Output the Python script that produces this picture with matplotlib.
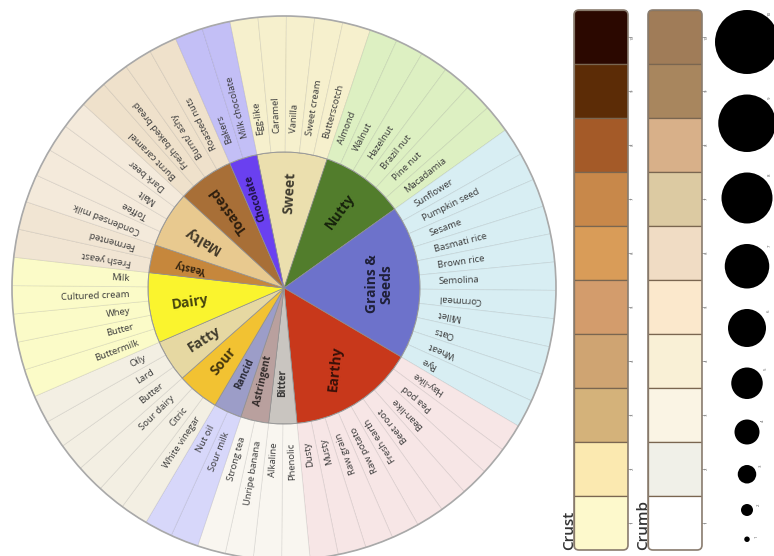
"""Bread flavour wheel with crust / crumb colour scales and a dot-size key."""

import numpy as np
import matplotlib.pyplot as plt
from matplotlib.colors import to_rgb
from matplotlib.patches import Wedge, Circle, Rectangle, FancyBboxPatch

plt.rcParams["font.family"] = ["Open Sans", "DejaVu Sans"]

# --- data -----------------------------------------------------------------
categories = ["Sweet", "Nutty", "Grains &\nSeeds", "Earthy", "Bitter",
              "Astringent", "Rancid", "Sour", "Fatty", "Dairy", "Yeasty",
              "Malty", "Toasted", "Chocolate"]

sweet = ["Egg-like", "Caramel", "Vanilla", "Sweet cream", "Butterscotch"]
nutty = ["Almond", "Walnut", "Hazelnut", "Brazil nut", "Pine nut", "Macadamia"]
grains = ["Sunflower", "Pumpkin seed", "Sesame", "Basmati rice", "Brown rice",
          "Semolina", "Cornmeal", "Millet", "Oats", "Wheat", "Rye"]
earthy = ["Hay-like", "Pea pod", "Bean-like", "Beet root", "Fresh earth",
          "Raw potato", "Raw grain", "Musty", "Dusty"]
bitter = ["Phenolic", "Alkaline"]
astringent = ["Unripe banana", "Strong tea"]
rancid = ["Sour milk", "Nut oil"]
sour = ["White vinegar", "Citric", "Sour dairy"]
fatty = ["Butter", "Lard", "Oily"]
dairy = ["Buttermilk", "Butter", "Whey", "Cultured cream", "Milk"]
yeasty = ["Fresh yeast", "Fermented"]
malty = ["Condensed milk", "Toffee", "Malt", "Dark beer"]
toasted = ["Burnt caramel", "Fresh baked bread", "Burnt/ ashy", "Roasted nuts"]
chocolate = ["Bakers", "Milk chocolate"]
leaves = [sweet, nutty, grains, earthy, bitter, astringent, rancid, sour,
          fatty, dairy, yeasty, malty, toasted, chocolate]

inner_colors = ["#ebdfae", "#527d2c", "#6d72cb", "#c8381b", "#c9c5c0",
                "#b9a09e", "#9c9dc8", "#f2c232", "#e6d8a2", "#faf42e",
                "#c6873c", "#e8c98f", "#a86f37", "#6a40f0"]
outer_colors = ["#f6f0cd", "#ddf0c2", "#d8eef3", "#f7e6e6", "#f9f6f0",
                "#f9f6f0", "#d7d7fa", "#f3efe3", "#f3efe3", "#fbfbc8",
                "#f1e5d3", "#f4eadb", "#efe1cb", "#c3bff6"]

levels = [10, 9, 8, 7, 6, 5, 4, 3, 2, 1]
crust_colors = ["#2b0800", "#5c2c06", "#a45a28", "#c8884a", "#d99c58",
                "#d39c6c", "#cfa472", "#d4b27a", "#fbe9b0", "#fdf9cc"]
crumb_colors = ["#a07c58", "#a8865e", "#d8b089", "#dccaa2", "#f0dcc4",
                "#fbe8cc", "#f9f0d6", "#faf4e4", "#f0f0e8", "#ffffff"]

# --- layout ---------------------------------------------------------------
W, H = 774, 556
CX, CY = 284, 268          # wheel centre, y measured upward
R_IN, R_OUT = 136, 272
START = 101.5              # where "Sweet" begins, degrees ccw from east
STEP = 6.0                 # every leaf flavour gets the same slice
R_LABEL = 155
R_CAT = 95
ROT_OVERRIDE = {"Grains &\nSeeds": 90, "Earthy": 84}

BAR_TOP, BAR_BOT = 546, 6
CRUST_X, CRUMB_X, BAR_W = 574, 648, 54
DOT_X, DOT_GAP = 747, 20.5
DOT_SCALE, DOT_OFF = 3.25, -0.5   # radius in px per level


def orient(a):
    """Radial text: read outward on the upper side, flip on the rest."""
    a = a % 360
    if 0 < a < 174:
        return a, "left"
    return a - 180, "right"


def polar(r, a):
    t = np.deg2rad(a)
    return CX + r * np.cos(t), CY + r * np.sin(t)


def darken(c, f=0.28):
    return tuple(v * f for v in to_rgb(c))


def main() -> None:
    fig = plt.figure(figsize=(W / 100, H / 100), dpi=100)
    ax = fig.add_axes([0, 0, 1, 1])
    ax.set_xlim(0, W)
    ax.set_ylim(0, H)
    ax.set_aspect("equal")
    ax.axis("off")

    k = 0
    for cat, kids, cin, cout in zip(categories, leaves, inner_colors, outer_colors):
        n = len(kids)
        a1 = START - STEP * k
        a0 = a1 - STEP * n
        ax.add_patch(Wedge((CX, CY), R_IN, a0, a1, facecolor=cin,
                           edgecolor="#8f8f8f", lw=0.5))
        mid = (a0 + a1) / 2
        rot = ROT_OVERRIDE.get(cat, orient(mid)[0])
        x, y = polar(R_CAT, mid)
        ax.text(x, y, cat, rotation=rot, rotation_mode="anchor", ha="center",
                va="center", multialignment="center", linespacing=1.0,
                fontsize=10 if n >= 3 else 7, fontweight="bold",
                color=darken(cin))
        for j, leaf in enumerate(kids):
            b1 = a1 - STEP * j
            b0 = b1 - STEP
            ax.add_patch(Wedge((CX, CY), R_OUT, b0, b1, width=R_OUT - R_IN,
                               facecolor=cout, edgecolor=(0, 0, 0, 0.08), lw=0.6))
            m = (b0 + b1) / 2
            rot, ha = orient(m)
            x, y = polar(R_LABEL, m)
            ax.text(x, y, leaf, rotation=rot, rotation_mode="anchor", ha=ha,
                    va="center", fontsize=6.8, color="#3a3a3a")
        k += n

    ax.add_patch(Circle((CX, CY), R_OUT, fill=False, ec="#a9a9a9", lw=1.2))
    ax.add_patch(Circle((CX, CY), R_IN, fill=False, ec="#9a9a9a", lw=0.7))

    # colour scales
    sw = (BAR_TOP - BAR_BOT) / len(levels)
    for bx, cols, name in [(CRUST_X, crust_colors, "Crust"),
                           (CRUMB_X, crumb_colors, "Crumb")]:
        frame = FancyBboxPatch((bx, BAR_BOT), BAR_W, BAR_TOP - BAR_BOT,
                               boxstyle="round,pad=0,rounding_size=5",
                               fc="none", ec="#8a7d70", lw=1.2, zorder=3)
        ax.add_patch(frame)
        for i, (lv, c) in enumerate(zip(levels, cols)):
            y0 = BAR_TOP - sw * (i + 1)
            r = Rectangle((bx, y0), BAR_W, sw, fc=c, ec="#7a6650", lw=0.9)
            ax.add_patch(r)
            r.set_clip_path(frame)
            yc = y0 + sw / 2
            ax.plot([bx + BAR_W, bx + BAR_W + 3], [yc, yc], color="#9a9a9a", lw=0.6)
            ax.text(bx + BAR_W + 5, yc, str(lv), rotation=90, ha="center",
                    va="center", fontsize=3.2, color="#777777")
        ax.text(bx - 5, BAR_BOT, name, rotation=90, rotation_mode="anchor",
                ha="left", va="center", fontsize=11, fontweight="semibold",
                color="#333333")

    # dot-size key
    y = BAR_TOP
    for lv in levels:
        rad = DOT_SCALE * lv + DOT_OFF
        cy = y - rad
        ax.add_patch(Circle((DOT_X, cy), rad, fc="black", ec="none"))
        lx = min(DOT_X + 0.75 * rad + 7, W - 4)
        ax.text(lx, cy + 0.9 * rad, str(lv), rotation=90,
                ha="center", va="center", fontsize=3.2, color="#555555")
        y = cy - rad - DOT_GAP

    fig.savefig("out.png", dpi=100)


if __name__ == "__main__":
    main()
